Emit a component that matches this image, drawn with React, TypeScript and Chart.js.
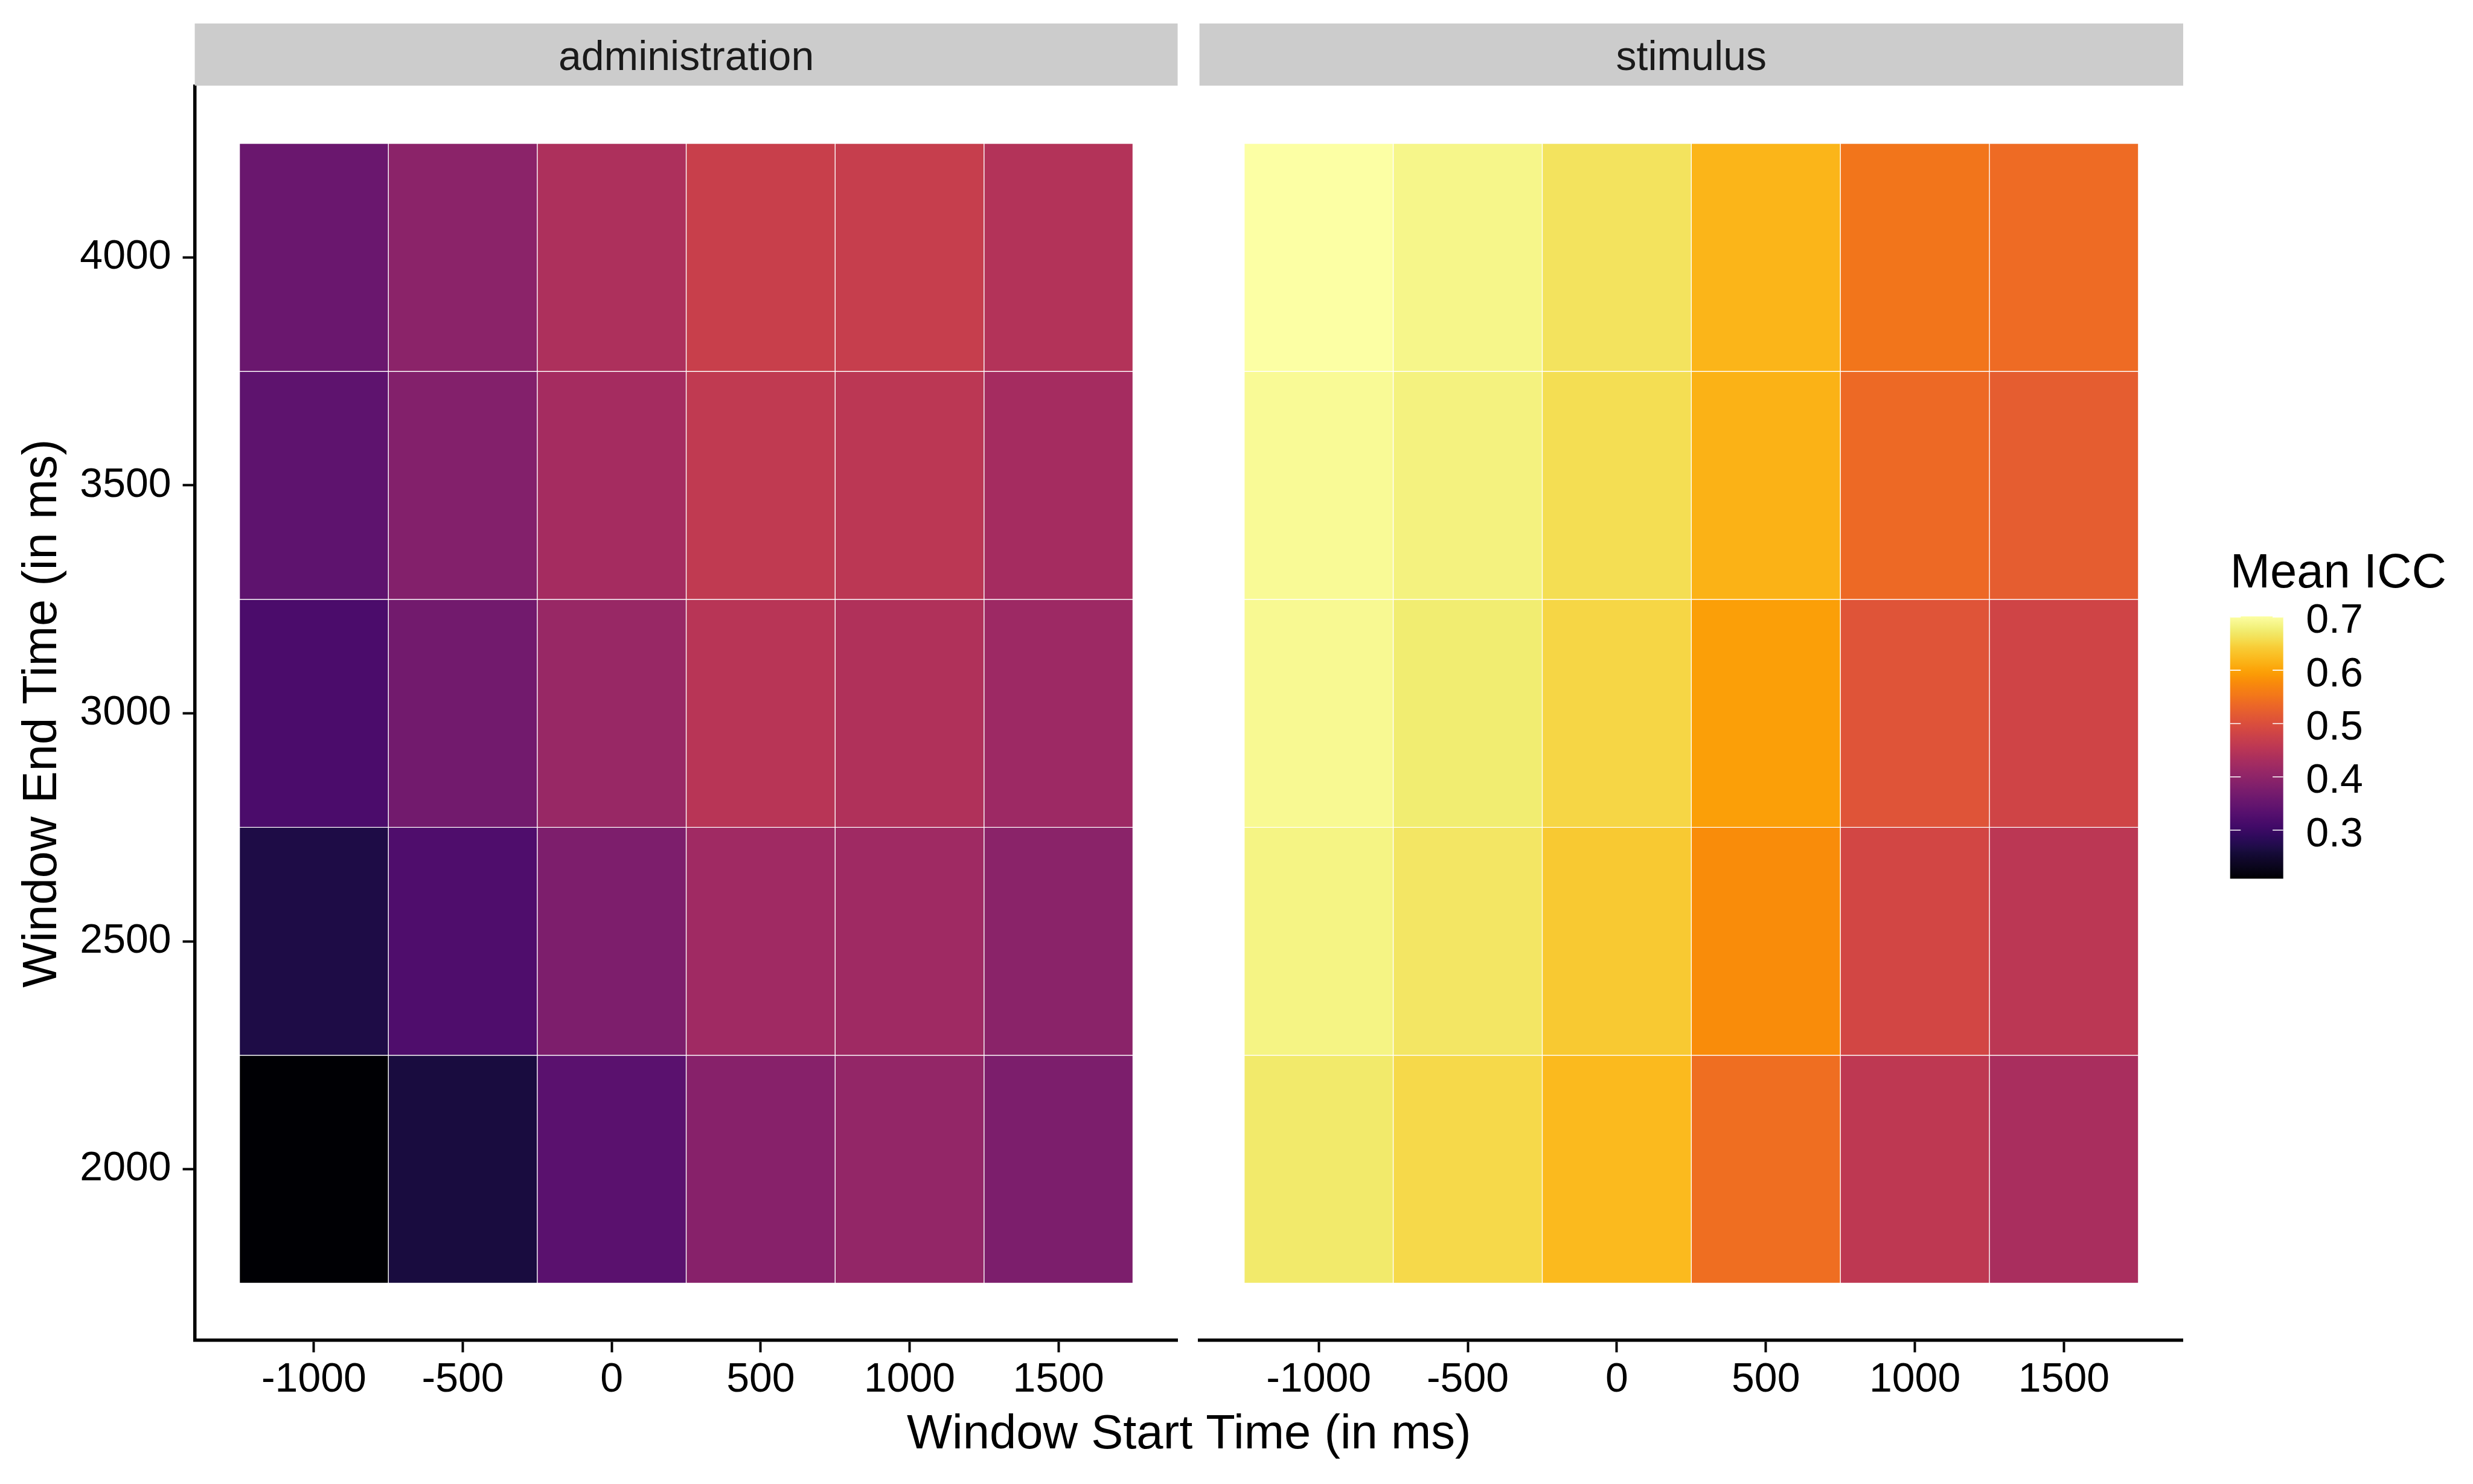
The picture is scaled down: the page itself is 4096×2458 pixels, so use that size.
import React, { useEffect, useRef } from 'react';
import { Chart, registerables } from 'chart.js';

Chart.register(...registerables);

// ---------------- data ----------------
const startTimes = [-1000, -500, 0, 500, 1000, 1500];
const endTimes = [2000, 2500, 3000, 3500, 4000];
const xTickValues = [-1000, -500, 0, 500, 1000, 1500];
const yTickValues = [2000, 2500, 3000, 3500, 4000];
const panelNames = ['administration', 'stimulus'];

// rows follow endTimes (2000 .. 4000), columns follow startTimes (-1000 .. 1500)
const administrationICC = [
  [0.209, 0.262, 0.337, 0.391, 0.406, 0.378],
  [0.267, 0.323, 0.379, 0.421, 0.420, 0.395],
  [0.318, 0.366, 0.412, 0.450, 0.441, 0.418],
  [0.341, 0.386, 0.428, 0.461, 0.454, 0.428],
  [0.357, 0.396, 0.437, 0.472, 0.469, 0.444],
];
const stimulusICC = [
  [0.672, 0.654, 0.623, 0.542, 0.458, 0.432],
  [0.685, 0.668, 0.639, 0.578, 0.487, 0.454],
  [0.692, 0.675, 0.651, 0.597, 0.508, 0.483],
  [0.694, 0.682, 0.659, 0.615, 0.537, 0.520],
  [0.701, 0.688, 0.665, 0.618, 0.550, 0.539],
];
const legendBreaks = [0.3, 0.4, 0.5, 0.6, 0.7];
// inferno colour map samples (position, colour)
const infernoPositions = [
  0, 0.1, 0.1111, 0.1429, 0.1667, 0.2, 0.2222, 0.25, 0.2857, 0.3, 0.3333, 0.4, 0.4286, 0.4444,
  0.5, 0.5556, 0.5714, 0.6, 0.6667, 0.7, 0.7143, 0.75, 0.7778, 0.8, 0.8333, 0.8571, 0.8889,
  0.9, 0.9474, 1,
];
const infernoHex = [
  '#000004', '#160B39', '#1B0C42', '#280B54', '#320A5E', '#420A68', '#4B0C6B', '#56106E',
  '#65156E', '#6A176E', '#781C6D', '#932667', '#9F2A63', '#A52C60', '#BC3754', '#CF4446',
  '#D44842', '#DD513A', '#ED6925', '#F37819', '#F57D15', '#F98C0A', '#FB9A06', '#FCA50A',
  '#FBB61A', '#FAC127', '#F7D03C', '#F6D746', '#F1ED71', '#FCFFA4',
];
const xAxisTitle = 'Window Start Time (in ms)';
const yAxisTitle = 'Window End Time (in ms)';
const legendTitle = 'Mean ICC';

// ---------------- layout (window pixels) ----------------
const W = 4096;
const H = 2458;
const K = 0.682;
const FONT = '"Liberation Sans", Arial, Helvetica, sans-serif';
const SMALL = 68;
const BIG = 79.6;
const PLOT_LEFT = 473 * K;
const PLOT_RIGHT = 5302 * K;
const PLOT_TOP = 210 * K;
const PLOT_BOTTOM = 3255 * K;
const LEFT_PANEL_WEIGHT = 2387;
const GAP_WEIGHT = 53;
const RIGHT_PANEL_WEIGHT = 2389;
const STRIP_TOP = 57 * K;
const STRIP_BOTTOM = 208 * K;
const STRIP_BASELINE = 116;
const XTITLE_BASELINE = 2399;
const BAR_LEFT = 5416 * K;
const BAR_RIGHT = 5545 * K;
const BAR_TOP = 1497 * K;
const BAR_BOTTOM = 2134 * K;
const LEGEND_TITLE_BASELINE = 973;
const LEGEND_LABEL_X = 5600 * K;

// ---------------- colour ----------------
function hexToRgb(hex: string): number[] {
  const h = hex.replace('#', '');
  return [0, 2, 4].map((i) => parseInt(h.slice(i, i + 2), 16));
}
const infernoRgb = infernoHex.map(hexToRgb);
function paletteAt(t: number): string {
  const tt = Math.min(1, Math.max(0, t));
  let i = 0;
  while (i < infernoPositions.length - 2 && tt > infernoPositions[i + 1]) i++;
  const p0 = infernoPositions[i], p1 = infernoPositions[i + 1];
  const f = p1 > p0 ? (tt - p0) / (p1 - p0) : 0;
  const a = infernoRgb[i], b = infernoRgb[i + 1];
  const c = [0, 1, 2].map((k) => Math.round(a[k] + (b[k] - a[k]) * f));
  return `rgb(${c[0]},${c[1]},${c[2]})`;
}
const allValues = [...administrationICC.flat(), ...stimulusICC.flat()];
const V_MIN = Math.min(...allValues);
const V_MAX = Math.max(...allValues);
function fillFor(v: number) { return paletteAt((v - V_MIN) / (V_MAX - V_MIN)); }

// ---------------- scale extents (5% expansion) ----------------
const tileW = startTimes[1] - startTimes[0];
const tileH = endTimes[1] - endTimes[0];
const xLo = Math.min(...startTimes) - tileW / 2;
const xHi = Math.max(...startTimes) + tileW / 2;
const yLo = Math.min(...endTimes) - tileH / 2;
const yHi = Math.max(...endTimes) + tileH / 2;
const X_MIN = xLo - 0.05 * (xHi - xLo);
const X_MAX = xHi + 0.05 * (xHi - xLo);
const Y_MIN = yLo - 0.05 * (yHi - yLo);
const Y_MAX = yHi + 0.05 * (yHi - yLo);

function buildTiles(matrix: number[][]) {
  const out: { x: number; y: number[]; v: number }[] = [];
  endTimes.forEach((e, r) => {
    startTimes.forEach((s, c) => {
      out.push({ x: s, y: [e - tileH / 2, e + tileH / 2], v: matrix[r][c] });
    });
  });
  return out;
}

const tickFont = { family: FONT, size: SMALL };

function panelXScale(weight: number) {
  return {
    type: 'linear',
    position: 'bottom',
    stack: 'facets',
    stackWeight: weight,
    min: X_MIN,
    max: X_MAX,
    offset: false,
    afterBuildTicks: (ax: any) => {
      ax.ticks = xTickValues.map((v) => ({ value: v }));
    },
    afterFit: (ax: any) => {
      ax.height = H - PLOT_BOTTOM;
    },
    grid: {
      display: true,
      offset: false,
      drawOnChartArea: false,
      drawTicks: true,
      tickLength: 20,
      tickWidth: 4,
      tickColor: '#000000',
    },
    border: { display: true, color: '#000000', width: 5.5 },
    ticks: {
      autoSkip: false,
      maxRotation: 0,
      minRotation: 0,
      padding: 6,
      color: '#000000',
      font: tickFont,
      callback: (v: any) => String(v),
    },
  };
}

const facetPlugin = {
  id: 'facetDecor',
  afterDraw(chart: any) {
    const ctx: CanvasRenderingContext2D = chart.ctx;
    const panels = [chart.scales.x, chart.scales.x2];
    ctx.save();
    // strips
    panels.forEach((sc: any, i: number) => {
      ctx.fillStyle = '#CCCCCC';
      ctx.fillRect(sc.left, STRIP_TOP, sc.right - sc.left, STRIP_BOTTOM - STRIP_TOP);
      ctx.fillStyle = '#1A1A1A';
      ctx.font = `${SMALL}px ${FONT}`;
      ctx.textAlign = 'center';
      ctx.textBaseline = 'alphabetic';
      ctx.fillText(panelNames[i], (sc.left + sc.right) / 2, STRIP_BASELINE);
    });
    // shared x-axis title
    ctx.fillStyle = '#000000';
    ctx.font = `${BIG}px ${FONT}`;
    ctx.textAlign = 'center';
    ctx.textBaseline = 'alphabetic';
    ctx.fillText(xAxisTitle, (panels[0].left + panels[1].right) / 2, XTITLE_BASELINE);

    // colour bar legend
    ctx.textAlign = 'left';
    ctx.fillText(legendTitle, BAR_LEFT, LEGEND_TITLE_BASELINE);
    const grad = ctx.createLinearGradient(0, BAR_BOTTOM, 0, BAR_TOP);
    const nStops = 120;
    for (let i = 0; i <= nStops; i++) {
      grad.addColorStop(i / nStops, paletteAt(i / nStops));
    }
    ctx.fillStyle = grad;
    ctx.fillRect(BAR_LEFT, BAR_TOP, BAR_RIGHT - BAR_LEFT, BAR_BOTTOM - BAR_TOP);
    const tickLen = (BAR_RIGHT - BAR_LEFT) / 5;
    ctx.strokeStyle = '#FFFFFF';
    ctx.lineWidth = 1.6;
    ctx.font = `${SMALL}px ${FONT}`;
    legendBreaks.forEach((b) => {
      const y = BAR_TOP + ((V_MAX - b) / (V_MAX - V_MIN)) * (BAR_BOTTOM - BAR_TOP);
      ctx.beginPath();
      ctx.moveTo(BAR_LEFT, y);
      ctx.lineTo(BAR_LEFT + tickLen, y);
      ctx.moveTo(BAR_RIGHT - tickLen, y);
      ctx.lineTo(BAR_RIGHT, y);
      ctx.stroke();
      ctx.fillStyle = '#000000';
      ctx.fillText(b.toFixed(1), LEGEND_LABEL_X, y + 26.5);
    });
    ctx.restore();
  },
};

export default function App() {
  const ref = useRef<HTMLCanvasElement | null>(null);

  useEffect(() => {
    document.body.style.margin = '0';
    document.body.style.overflow = 'hidden';
    const canvas = ref.current;
    if (!canvas) return;
    Chart.defaults.font.family = FONT;

    const adminTiles = buildTiles(administrationICC);
    const stimTiles = buildTiles(stimulusICC);
    const tileStyle = {
      grouped: false,
      categoryPercentage: 1,
      barPercentage: 1,
      borderWidth: 0.7,
      borderColor: '#FFFFFF',
      borderSkipped: false,
      inflateAmount: 0,
    };

    const chart = new Chart(canvas, {
      type: 'bar',
      data: {
        datasets: [
          {
            label: panelNames[0],
            data: adminTiles as any,
            xAxisID: 'x',
            yAxisID: 'y',
            backgroundColor: adminTiles.map((t) => fillFor(t.v)),
            ...tileStyle,
          } as any,
          {
            label: panelNames[1],
            data: stimTiles as any,
            xAxisID: 'x2',
            yAxisID: 'y',
            backgroundColor: stimTiles.map((t) => fillFor(t.v)),
            ...tileStyle,
          } as any,
        ],
      },
      options: {
        responsive: false,
        maintainAspectRatio: false,
        animation: false,
        events: [],
        layout: {
          autoPadding: false,
          padding: { left: 0, top: PLOT_TOP, right: W - PLOT_RIGHT, bottom: 0 },
        },
        plugins: {
          legend: { display: false },
          tooltip: { enabled: false },
          title: { display: false },
        },
        scales: {
          x: panelXScale(LEFT_PANEL_WEIGHT),
          xgap: {
            type: 'linear',
            display: false,
            position: 'bottom',
            stack: 'facets',
            stackWeight: GAP_WEIGHT,
            offset: false,
          },
          x2: panelXScale(RIGHT_PANEL_WEIGHT),
          y: {
            type: 'linear',
            position: 'left',
            min: Y_MIN,
            max: Y_MAX,
            beginAtZero: false,
            afterBuildTicks: (ax: any) => {
              ax.ticks = yTickValues.map((v) => ({ value: v }));
            },
            afterFit: (ax: any) => {
              ax.width = PLOT_LEFT;
            },
            title: {
              display: true,
              text: yAxisTitle,
              color: '#000000',
              font: { family: FONT, size: BIG },
              padding: { top: 23.5, bottom: 0 },
            },
            grid: {
              display: true,
              drawOnChartArea: false,
              drawTicks: true,
              tickLength: 20,
              tickWidth: 4,
              tickColor: '#000000',
            },
            border: { display: true, color: '#000000', width: 5.5 },
            ticks: {
              autoSkip: false,
              padding: 19,
              color: '#000000',
              font: tickFont,
              callback: (v: any) => String(v),
            },
          },
        } as any,
      },
      plugins: [facetPlugin],
    } as any);

    return () => chart.destroy();
  }, []);

  return (
    <div style={{ position: 'absolute', left: 0, top: 0, width: W, height: H, background: '#FFFFFF' }}>
      <canvas ref={ref} width={W} height={H} style={{ display: 'block', width: W, height: H }} />
    </div>
  );
}
